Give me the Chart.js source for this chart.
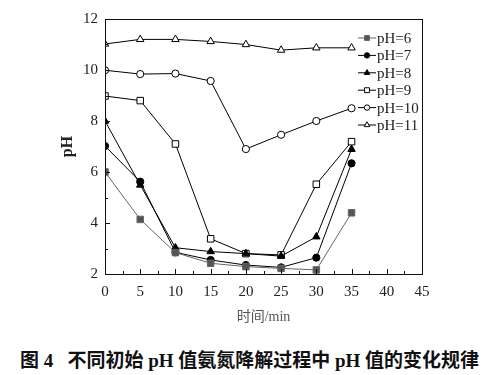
<!DOCTYPE html>
<html>
<head>
<meta charset="utf-8">
<script src="https://cdn.jsdelivr.net/npm/chart.js@4"></script>
<style>
  body { margin: 0; background: #fff; width: 499px; height: 375px; overflow: hidden; position: relative; }
  #wrap { position: absolute; left: 0; top: 0; width: 499px; height: 335px; }
  #caption { position: absolute; left: 0; top: 349px; width: 499px; text-align: center;
    font: bold 19px "Liberation Serif", "Noto Sans CJK SC", serif; color: #111; line-height: 24px; white-space: pre; }
</style>
</head>
<body>
<div id="wrap"><canvas id="myChart"></canvas></div>
<div id="caption">图 4   不同初始 pH 值氨氮降解过程中 pH 值的变化规律</div>
<script>
const ctx = document.getElementById('myChart');

const times = [0, 5, 10, 15, 20, 25, 30, 35];
const ph6 = [6.0, 4.14, 2.84, 2.42, 2.29, 2.22, 2.16, 4.4];
const ph7 = [7.02, 5.62, 2.85, 2.55, 2.35, 2.26, 2.64, 6.34];
const ph8 = [8.0, 5.49, 3.03, 2.88, 2.8, 2.7, 3.46, 6.89];
const ph9 = [8.98, 8.8, 7.1, 3.38, 2.8, 2.75, 5.52, 7.19];
const ph10 = [9.99, 9.84, 9.86, 9.57, 6.9, 7.46, 8.0, 8.5];
const ph11 = [11.02, 11.2, 11.2, 11.12, 11.0, 10.78, 10.87, 10.87];
const seriesNames = ['pH=6', 'pH=7', 'pH=8', 'pH=9', 'pH=10', 'pH=11'];

function pts(values) {
    return values.map((v, i) => ({ x: times[i], y: v }));
}

function series(label, values, color, fill, style, radius) {
    return {
        label: label,
        data: pts(values),
        borderColor: color,
        borderWidth: 1,
        pointStyle: style,
        pointRadius: radius,
        pointBorderWidth: 1,
        pointBorderColor: color,
        pointBackgroundColor: fill,
        tension: 0,
    };
}

const serif = '"Liberation Serif", "Noto Sans CJK SC", serif';

// legend inside the plot, top right
const innerLegend = {
    id: 'innerLegend',
    afterDraw(chart) {
        const c = chart.ctx;
        const area = chart.chartArea;
        const x0 = area.right - 64;
        let y = area.top + 19;
        c.save();
        chart.data.datasets.forEach(ds => {
            c.strokeStyle = ds.borderColor;
            c.lineWidth = 1;
            c.beginPath();
            c.moveTo(x0, y);
            c.lineTo(x0 + 18, y);
            c.stroke();
            c.fillStyle = ds.pointBackgroundColor;
            c.strokeStyle = ds.pointBorderColor;
            Chart.helpers.drawPoint(c, { pointStyle: ds.pointStyle, radius: ds.pointRadius * 0.75, rotation: 0, borderWidth: 1 }, x0 + 9, y);
            c.fillStyle = '#222';
            c.font = '15px ' + serif;
            c.textBaseline = 'middle';
            c.textAlign = 'left';
            c.fillText(ds.label, x0 + 19, y + 1);
            y += 17.4;
        });
        c.restore();
    }
};

// frame and inward ticks
const frameTicks = {
    id: 'frameTicks',
    afterDatasetsDraw(chart) {
        const c = chart.ctx;
        const a = chart.chartArea;
        const xs = chart.scales.x, ys = chart.scales.y;
        c.save();
        c.strokeStyle = '#111';
        c.lineWidth = 1;
        c.strokeRect(Math.round(a.left) + 0.5, Math.round(a.top) + 0.5, Math.round(a.right - a.left), Math.round(a.bottom - a.top));
        c.beginPath();
        for (let v = 0; v <= 45; v += 2.5) {
            const px = Math.round(xs.getPixelForValue(v)) + 0.5;
            const len = (v % 5 === 0) ? 5 : 3;
            c.moveTo(px, a.bottom);
            c.lineTo(px, a.bottom - len);
        }
        for (let v = 2; v <= 12; v += 1) {
            const py = Math.round(ys.getPixelForValue(v)) + 0.5;
            const len = (v % 2 === 0) ? 5 : 3;
            c.moveTo(a.left, py);
            c.lineTo(a.left + len, py);
        }
        c.stroke();
        c.restore();
    }
};

new Chart(ctx, {
    type: 'line',
    data: {
        datasets: [
            series(seriesNames[0], ph6, '#666', '#555', 'rect', 4.6),
            series(seriesNames[1], ph7, '#000', '#000', 'circle', 3.6),
            series(seriesNames[2], ph8, '#000', '#000', 'triangle', 4.3),
            series(seriesNames[3], ph9, '#000', '#fff', 'rect', 4.6),
            series(seriesNames[4], ph10, '#000', '#fff', 'circle', 3.6),
            series(seriesNames[5], ph11, '#000', '#fff', 'triangle', 4.3),
        ]
    },
    options: {
        responsive: true,
        maintainAspectRatio: false,
        animation: false,
        layout: {
            padding: { left: 58, right: 77, top: 19, bottom: 9 }
        },
        plugins: {
            legend: { display: false },
            tooltip: { enabled: false },
        },
        scales: {
            x: {
                type: 'linear',
                min: 0,
                max: 45,
                afterFit: s => { s.height = 52; },
                grid: { display: false, drawTicks: false },
                border: { display: false },
                ticks: {
                    stepSize: 5,
                    padding: 9,
                    color: '#222',
                    font: { family: serif, size: 15 },
                },
                title: {
                    display: true,
                    text: '时间/min',
                    color: '#555',
                    padding: 0,
                    font: { family: serif, size: 14 },
                },
            },
            y: {
                min: 2,
                max: 12,
                afterFit: s => { s.width = 47; },
                grid: { display: false, drawTicks: false },
                border: { display: false },
                ticks: {
                    stepSize: 2,
                    padding: 7,
                    color: '#222',
                    font: { family: serif, size: 15 },
                },
                title: {
                    display: true,
                    text: 'pH',
                    color: '#222',
                    padding: 0,
                    font: { family: serif, size: 16, weight: 'bold' },
                },
            }
        }
    },
    plugins: [frameTicks, innerLegend]
});
</script>
</body>
</html>
